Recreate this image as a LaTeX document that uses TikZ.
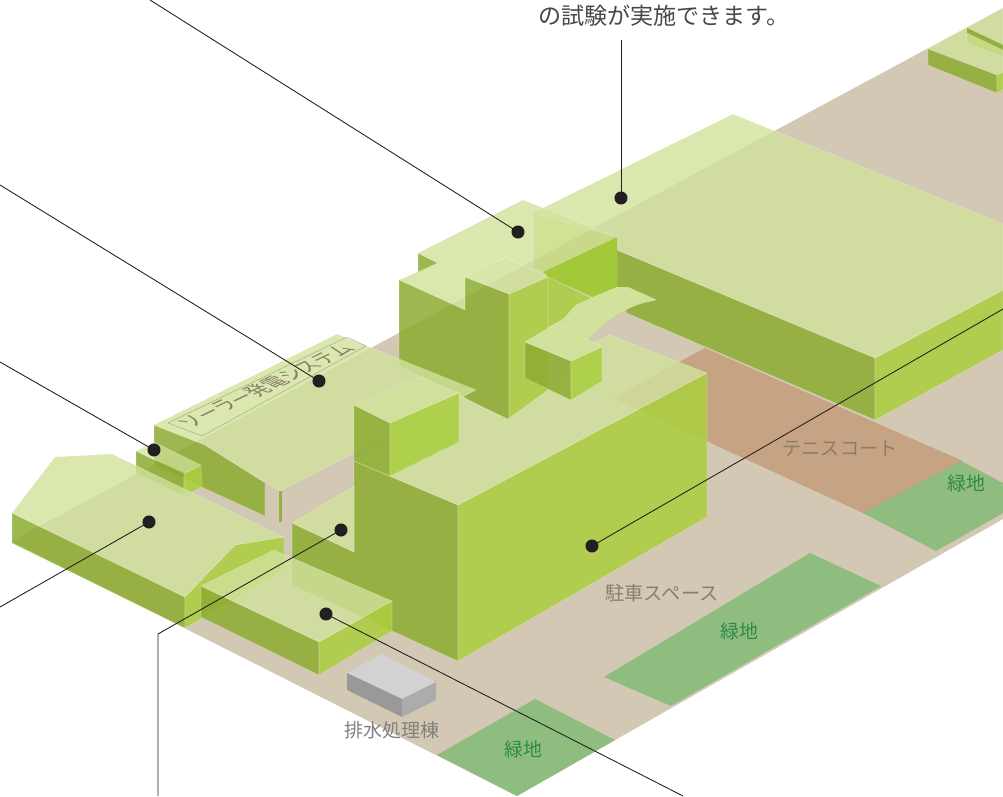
\documentclass[tikz,border=0pt]{standalone}
\usepackage{fontspec}
\setmainfont{Noto Sans CJK JP}
\definecolor{ground}{RGB}{211,200,180}
\definecolor{court}{RGB}{198,163,130}
\definecolor{lawn}{RGB}{143,188,127}
\definecolor{roofc}{RGB}{209,226,156}
\definecolor{lwall}{RGB}{140,172,49}
\definecolor{rwall}{RGB}{170,207,62}
\definecolor{rbright}{RGB}{163,200,58}
\definecolor{leader}{RGB}{35,31,32}
\definecolor{labelb}{RGB}{138,126,106}
\definecolor{labelg}{RGB}{46,139,70}
\tikzset{
  x=0.75pt,y=-0.75pt,
  roof/.style={fill=roofc,fill opacity=.8,draw=white,draw opacity=.25,line width=.4pt,line join=round},
  left/.style={fill=lwall,fill opacity=.85,draw=white,draw opacity=.25,line width=.4pt,line join=round},
  right/.style={fill=rwall,fill opacity=.85,draw=white,draw opacity=.25,line width=.4pt,line join=round},
  lead/.style={draw=leader,line width=.65pt},
  dot/.style={circle,fill=leader,inner sep=0pt,minimum size=9.8pt},
  grlabel/.style={font=\fontsize{14.2pt}{16pt}\selectfont,text=labelg,inner sep=0pt},
  brlabel/.style={font=\fontsize{14.4pt}{16pt}\selectfont,text=labelb,inner sep=0pt},
}
\begin{document}
\begin{tikzpicture}
\useasboundingbox (0,0) rectangle (1003,796);
% ground
\fill[ground] (1003,8) -- (12,541) -- (517,796) -- (1003,519) -- cycle;
\fill[court] (705,348) -- (963,461) -- (865,514) -- (613,398) -- cycle;
\fill[lawn] (863,513) -- (961,461) -- (1003,483) -- (1003,513) -- (936,551) -- cycle;
\fill[lawn] (604,677) -- (810,553) -- (881,586) -- (671,706) -- cycle;
\fill[lawn] (437,755) -- (535,699) -- (615,740) -- (517,796) -- cycle;
\node[grlabel] (g1) at (966,483) {緑地};
\node[grlabel] (g2) at (739,631) {緑地};
\node[grlabel] (g3) at (523,749) {緑地};
\node[brlabel] (tc) at (840,449) {テニスコート};
\node[brlabel] (pk) at (662,593) {駐車スペース};
% top right building
\path[roof] (928,49) -- (1003,8) -- (1003,72) -- (997,75) -- cycle;
\path[left] (928,49) -- (997,75) -- (997,93) -- (928,65) -- cycle;
\path[right] (997,75) -- (1003,72) -- (1003,89) -- (997,93) -- cycle;
\fill[lwall,fill opacity=.9] (967,28) -- (1003,45) -- (1003,50) -- (967,33) -- cycle;
\path[roof,fill=rwall,fill opacity=.3] (967,33) -- (1003,50) -- (1003,57) -- (967,43) -- cycle;
% back large building
\path[left] (617,250) -- (875,358) -- (875,420) -- (627,313) -- (617,290) -- cycle;
\path[right] (875,358) -- (1003,290) -- (1003,350) -- (875,420) -- cycle;
\path[roof] (733,114) -- (1003,224) -- (1003,290) -- (875,358) -- (617,250) -- (617,237) -- (533,213) -- cycle;
% tower complex
\path[left] (418,253) -- (438,263) -- (418,273) -- cycle;
\path[roof] (418,253) -- (523,200) -- (617,237) -- (543,272) -- (548,277) -- (506,257) -- (465,277) -- (465,310) -- (399,280) -- (438,263) -- cycle;
\path[roof,fill=rwall,fill opacity=.22] (533,213) -- (617,237) -- (543,272) -- (533,268) -- cycle;
\fill[rbright] (543,272) -- (617,237) -- (617,287) -- (593,297) -- (548,277) -- cycle;
\path[left] (399,280) -- (465,310) -- (465,277) -- (509,294) -- (509,420) -- (399,365) -- cycle;
\path[right] (509,294) -- (548,277) -- (548,390) -- (509,420) -- cycle;
\path[right] (548,277) -- (593,299) -- (557,323) -- (548,327) -- cycle;
\path[roof,fill opacity=.85] (465,277) -- (506,257) -- (548,277) -- (509,294) -- cycle;
% bridge
\fill[roofc] (525,342) -- (557,323) .. controls (570,315) and (572,305) .. (580,303) -- (593,297) -- (617,287) -- (628,287) -- (657,300) -- (643,303) .. controls (630,307) and (622,312) .. (613,317) -- (597,330) -- (587,340) -- (592,343) -- (571,361) -- cycle;
% solar building
\path[left] (154,425) -- (205,445) -- (265,483) -- (265,516) -- (154,465) -- cycle;
\fill[lwall,fill opacity=.85] (279,491) -- (282,491) -- (282,522) -- (279,522) -- cycle;
\path[roof] (154,425) -- (337,334) -- (476,390) -- (280,491) -- (205,445) -- cycle;
\draw[labelb,line width=.3pt,opacity=.7] (168,423) -- (347,337) -- (366,346) -- (202,436) -- cycle;
\begin{scope}[shift={(266,386)},cm={.90,.433,-1.2,.46,(0,0)}]
\node[transform shape,font=\fontsize{13.8pt}{15pt}\selectfont,text=labelb,inner sep=0pt] (solar) at (0,0) {ソーラー発電システム};
\end{scope}
% small box by solar
\path[left] (136,451) -- (184,474) -- (184,496) -- (136,473) -- cycle;
\path[right] (184,474) -- (201,465) -- (202,487) -- (184,496) -- cycle;
\path[roof,fill opacity=.7] (136,451) -- (154,442) -- (201,465) -- (184,474) -- cycle;
\fill[lwall,fill opacity=.8] (157,461) -- (184,473) -- (184,476) -- (157,464) -- cycle;
% left building
\path[left] (12,513) -- (185,597) -- (185,628) -- (12,543) -- cycle;
\path[right] (185,597) -- (235,545) -- (284,537) -- (284,570) -- (185,628) -- cycle;
\path[roof] (12,513) -- (55,457) -- (112,454) -- (284,537) -- (235,545) -- (185,597) -- cycle;
% main building
\path[left] (292,523) -- (292,585) -- (458,661) -- (458,505) -- (354,461) -- (354,552) -- cycle;
\path[roof] (292,523) -- (354,486) -- (354,552) -- cycle;
\path[right] (458,505) -- (707,373) -- (707,517) -- (458,661) -- cycle;
\path[roof] (354,461) -- (460,395) -- (473,403) -- (508,419) -- (548,390) -- (592,343) -- (610,335) -- (707,373) -- (458,505) -- cycle;
% center small box
\path[left] (525,342) -- (571,361) -- (571,400) -- (525,378) -- cycle;
\path[right] (571,361) -- (602,347) -- (602,381) -- (571,400) -- cycle;
\path[roof] (525,342) -- (557,323) -- (602,347) -- (571,361) -- cycle;
% front tower
\path[left] (354,405) -- (390,423) -- (390,476) -- (354,461) -- cycle;
\path[right] (390,423) -- (459,393) -- (459,442) -- (390,476) -- cycle;
\path[roof] (354,405) -- (419,377) -- (459,393) -- (390,423) -- cycle;
% front lower box
\path[left] (201,586) -- (319,642) -- (319,675) -- (201,617) -- cycle;
\path[right] (319,642) -- (392,601) -- (392,631) -- (319,675) -- cycle;
\path[roof] (201,586) -- (274,550) -- (392,601) -- (319,642) -- cycle;
% gray box
\fill[gray!35] (347,673) -- (382,654) -- (436,682) -- (402,699) -- cycle;
\fill[gray!80] (347,673) -- (402,699) -- (402,717) -- (347,690) -- cycle;
\fill[gray!65] (402,699) -- (436,682) -- (436,700) -- (402,717) -- cycle;
\node[font=\fontsize{14.3pt}{16pt}\selectfont,text=gray,inner sep=0pt] (drain) at (392,730) {排水処理棟};
% top text
\node[font=\fontsize{17.3pt}{19pt}\selectfont,text=black!72,inner sep=0pt] (top) at (664,16) {の試験が実施できます。};
% leaders
\node[dot] (d1) at (518,232) {};
\node[dot] (d2) at (621,198) {};
\node[dot] (d3) at (319,381) {};
\node[dot] (d4) at (154,450) {};
\node[dot] (d5) at (149,522) {};
\node[dot] (d6) at (341,530) {};
\node[dot] (d7) at (326,614) {};
\node[dot] (d8) at (592,546) {};
\coordinate (e1) at (150,0);
\coordinate (e2) at (621,40);
\coordinate (e3) at (0,185);
\coordinate (e4) at (0,362);
\coordinate (e5) at (0,607);
\coordinate (e6) at (158,796);
\coordinate (k6) at (158,634);
\coordinate (e7) at (683,796);
\coordinate (e8) at (1003,309);
\draw[lead] (e1) -- (d1.center);
\draw[lead] (e2) -- (d2.center);
\draw[lead] (e3) -- (d3.center);
\draw[lead] (e4) -- (d4.center);
\draw[lead] (e5) -- (d5.center);
\draw[lead] (e6) -- (k6) -- (d6.center);
\draw[lead] (e7) -- (d7.center);
\draw[lead] (e8) -- (d8.center);
\end{tikzpicture}
\end{document}
